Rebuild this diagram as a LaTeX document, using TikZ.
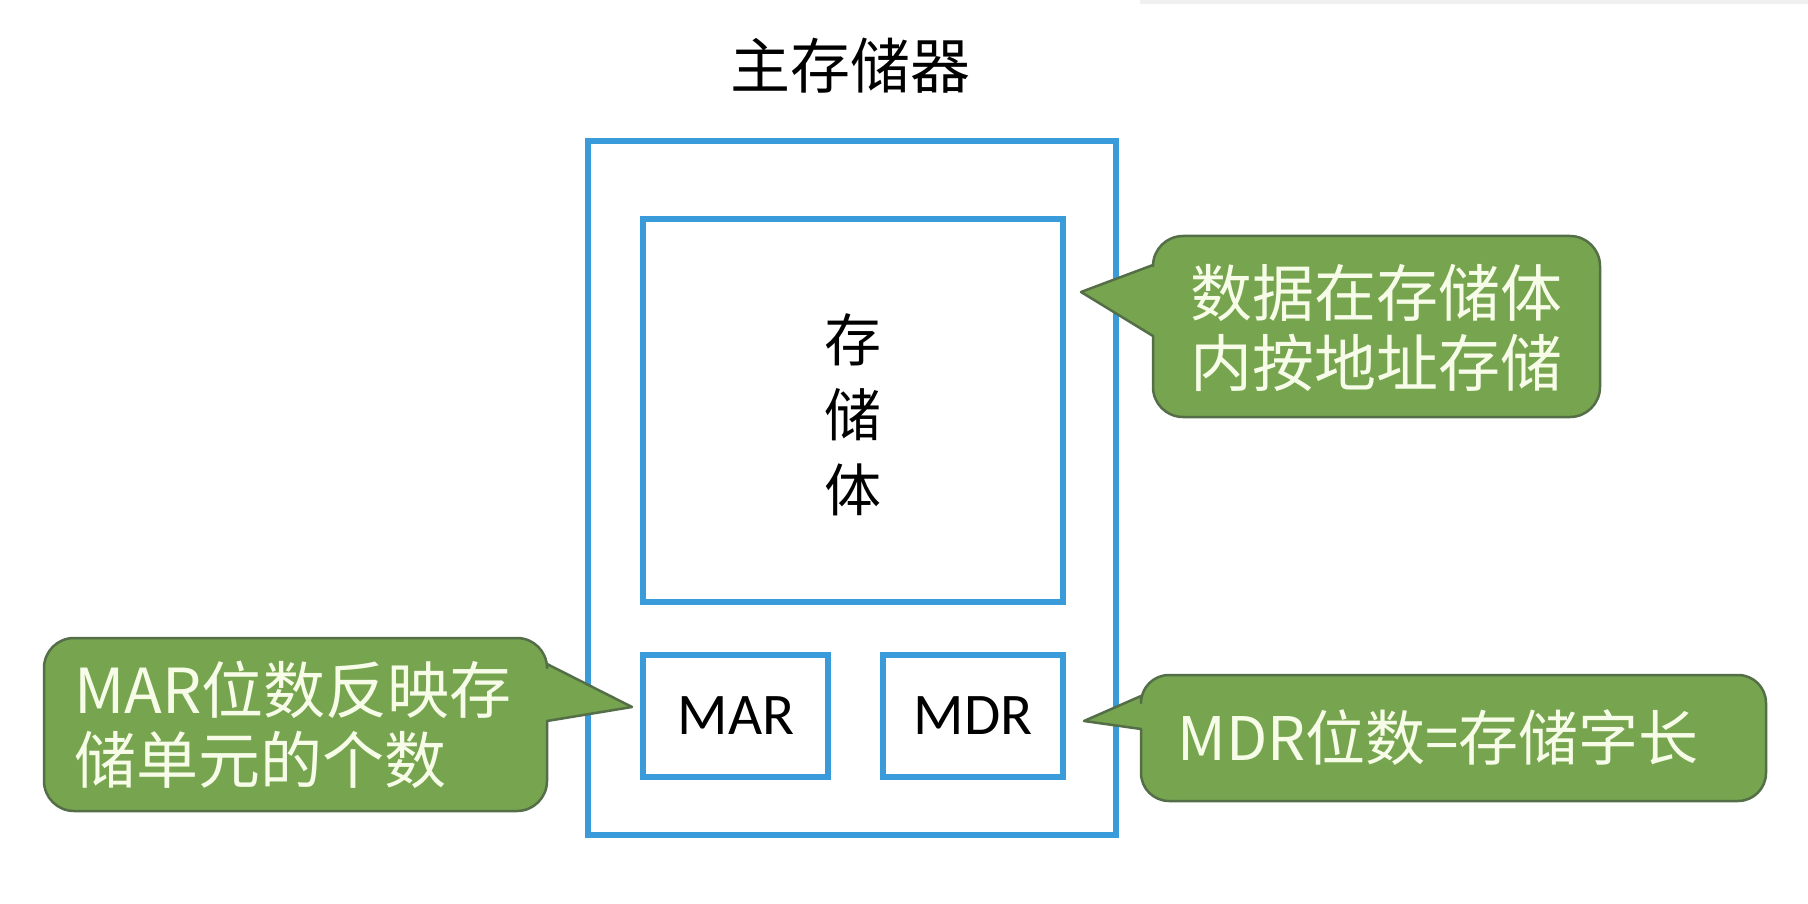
\documentclass[tikz,border=0pt]{standalone}
\usepackage{fontspec}
\newfontfamily\cjk{Noto Sans CJK SC}
\newfontfamily\calib{Carlito}
\definecolor{boxblue}{RGB}{58,155,218}
\definecolor{callgreen}{RGB}{119,164,78}
\definecolor{callborder}{RGB}{84,110,72}
\definecolor{calltext}{RGB}{246,252,232}
\begin{document}
\begin{tikzpicture}[x=1pt,y=-1pt,
  bluebox/.style={draw=boxblue,line width=6pt},
  callout/.style={fill=callgreen,draw=callborder,line width=2.5pt,line join=round},
  calltxt/.style={text=calltext,font=\cjk\fontsize{62}{70}\selectfont,inner sep=0pt},
  titletxt/.style={font=\cjk\fontsize{60}{76}\selectfont,inner sep=0pt},
  regtxt/.style={font=\calib\fontsize{59}{60}\selectfont,inner sep=0pt}]
\useasboundingbox (0,0) rectangle (1808,904);
\fill[white] (0,0) rectangle (1808,904);
\fill[black!6] (1140,0) rectangle (1808,4);
% title
\node[titletxt] (title) at (850,66) {主存储器};
% boxes
\draw[bluebox] (588,141) rectangle (1116,835);
\draw[bluebox] (643,219) rectangle (1063,602);
\node[titletxt,align=center,font=\cjk\fontsize{57}{75}\selectfont] (body) at (853,415) {存\\储\\体};
\draw[bluebox] (643,655) rectangle (828,777);
\node[regtxt] (mar) at (736,716) {MAR};
\draw[bluebox] (883,655) rectangle (1063,777);
\node[regtxt] (mdr) at (973,716) {MDR};
% callout 1
\draw[callout] (1081,292) -- (1153,265) [rounded corners=30pt] -- (1153,236) -- (1600,236) -- (1600,417) -- (1153,417) [sharp corners] -- (1153,336) -- cycle;
\node[calltxt,align=center] (c1) at (1376,328) {数据在存储体\\内按地址存储};
% callout 2
\draw[callout] (632,707) -- (547,721) [rounded corners=30pt] -- (547,811) -- (44,811) -- (44,638) -- (547,638) [sharp corners] -- (547,664) -- cycle;
\node[calltxt,align=left,anchor=west] (c2) at (74,725) {MAR位数反映存\\储单元的个数};
% callout 3
\draw[callout] (1084,721) -- (1141,696) [rounded corners=28pt] -- (1141,675) -- (1766,675) -- (1766,801) -- (1141,801) [sharp corners] -- (1141,729) -- cycle;
\node[calltxt,font=\cjk\fontsize{60}{70}\selectfont] (c3) at (1438,738) {MDR位数=存储字长};
\end{tikzpicture}
\end{document}
